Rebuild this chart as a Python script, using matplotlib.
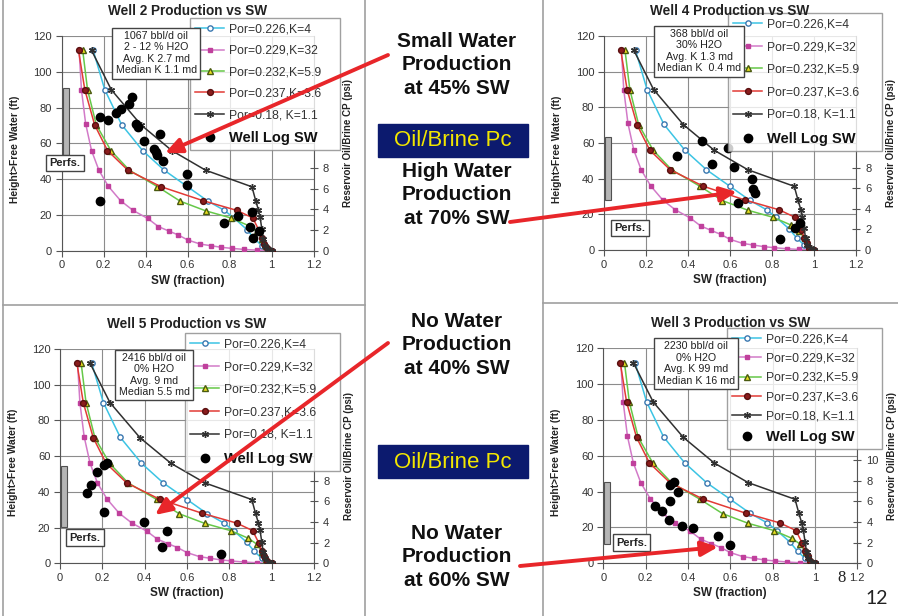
import matplotlib.pyplot as plt
from matplotlib.lines import Line2D
from matplotlib.patches import Rectangle

plt.rcParams['font.family'] = ['Liberation Sans', 'DejaVu Sans']

# capillary pressure curves (the same five curves are on every chart)
sw_226 = [0.150, 0.205, 0.285, 0.385, 0.488, 0.600, 0.695, 0.775, 0.820, 0.882, 0.918, 0.953, 1.0]
h_226 = [112, 90, 70.5, 56, 45, 35.7, 27.8, 22.5, 18.3, 11.8, 6.7, 2.8, 0]
sw_229 = [0.083, 0.094, 0.114, 0.142, 0.177, 0.222, 0.28, 0.34, 0.41, 0.46, 0.51, 0.555,
          0.60, 0.66, 0.71, 0.76, 0.81, 0.87, 0.93, 1.0]
h_229 = [112, 90, 71, 56, 45, 36, 28, 22.5, 18, 13.5, 11, 8.8, 6, 3.7, 2.8, 1.9, 1.3, 0.7, 0.3, 0]
sw_232 = [0.100, 0.123, 0.165, 0.234, 0.322, 0.456, 0.564, 0.685, 0.806, 0.890, 0.929, 0.956, 0.975, 1.0]
h_232 = [112, 90, 70.3, 56, 45, 35.8, 27.7, 22.3, 18.3, 14, 10.8, 6.5, 2.5, 0]
sw_237 = [0.080, 0.110, 0.157, 0.218, 0.315, 0.472, 0.672, 0.835, 0.910, 0.940, 0.953, 0.965, 0.976, 1.0]
h_237 = [112, 90, 70.3, 56, 45, 35.8, 28, 22.5, 18.3, 11.2, 7, 4, 1.3, 0]
sw_18 = [0.142, 0.236, 0.378, 0.524, 0.685, 0.906, 0.924, 0.937, 0.945, 0.953, 0.960, 0.968, 0.984, 1.0]
h_18 = [112, 90, 70.3, 56, 45, 35.7, 27.9, 22.7, 18.6, 12.1, 6.5, 2.8, 1, 0]

curve_labels = ['Por=0.226,K=4', 'Por=0.229,K=32', 'Por=0.232,K=5.9', 'Por=0.237,K=3.6', 'Por=0.18, K=1.1']

# well log SW points
sw_w2 = [0.18, 0.183, 0.222, 0.26, 0.28, 0.32, 0.335, 0.355, 0.362, 0.39, 0.44, 0.45, 0.455,
         0.466, 0.484, 0.595, 0.595, 0.773, 0.84, 0.905, 0.897, 0.912, 0.94]
h_w2 = [28, 75, 73, 77, 79, 82, 86, 71, 69, 61.5, 57, 55, 53.5, 65, 50, 43, 37, 15.5, 19.5, 21.5, 13, 7, 11]
sw_w4 = [0.349, 0.465, 0.513, 0.592, 0.619, 0.703, 0.711, 0.719, 0.640, 0.933, 0.91, 0.838]
h_w4 = [52.7, 61.3, 48.2, 57, 46.4, 39.6, 34, 32.1, 26.5, 15.3, 12.1, 6]
sw_w5 = [0.129, 0.145, 0.176, 0.208, 0.22, 0.208, 0.397, 0.504, 0.484, 0.76]
h_w5 = [39.2, 43.8, 50.9, 55, 56, 28.9, 23.3, 18.3, 9, 5.2]
sw_w3 = [0.315, 0.333, 0.354, 0.315, 0.244, 0.276, 0.31, 0.373, 0.425, 0.543, 0.598]
h_w3 = [43.7, 45.6, 39.6, 34.8, 32.2, 29.2, 24.2, 21, 19.5, 15.4, 10.2]

wells = ['Well 2', 'Well 4', 'Well 5', 'Well 3']
info = ['1067 bbl/d oil\n2 - 12 % H2O\nAvg. K 2.7 md\nMedian K 1.1 md',
        '368 bbl/d oil\n30% H2O\nAvg. K 1.3 md\nMedian K  0.4 md',
        '2416 bbl/d oil\n0% H2O\nAvg. 9 md\nMedian 5.5 md',
        '2230 bbl/d oil\n0% H2O\nAvg. K 99 md\nMedian K 16 md']
log_sw = [sw_w2, sw_w4, sw_w5, sw_w3]
log_h = [h_w2, h_w4, h_w5, h_w3]
perf_top = [91, 63.6, 54.5, 45.6]
perf_bot = [53.5, 28, 20.5, 10.6]
psi_max = [8, 8, 8, 10]

notes = ['Small Water\nProduction\nat 45% SW', 'High Water\nProduction\nat 70% SW',
         'No Water\nProduction\nat 40% SW', 'No Water\nProduction\nat 60% SW']

# layout (pixels of the 898x616 slide)
W, H = 898, 616
ax_px = [(61.7, 36, 313.7, 250.7), (604, 36, 856, 250), (60, 349, 314, 563.3), (603.3, 348.3, 857.3, 563.3)]
info_xy = [(0.45, 110.4), (0.453, 111.5), (0.445, 105.5), (0.439, 111.5)]
perf_xy = [(0.015, 49), (0.124, 12.4), (0.118, 14.3), (0.133, 11.6)]
leg_px = [(190, 18, 150), (728, 13, 154), (185, 333, 155), (727, 328, 155)]
leg_space = [0.78, 0.88, 0.88, 0.6]
note_xy = [(457, 65), (457, 195), (457, 345), (457, 557)]
pc_box_top = [124, 445]
arrow_px = [((388, 55), (165, 153)), ((510, 222), (737, 192)),
            ((388, 343), (155, 515)), ((520, 566), (718, 547))]

styles = [dict(color='#3cc4e4', marker='o', mfc='white', mec='#3a78b0', ms=3.8, lw=1.1),
          dict(color='#d27ac8', marker='s', mfc='#c0409c', mec='#c0409c', ms=2.2, lw=1.1),
          dict(color='#66c848', marker='^', mfc='#e8e020', mec='#4a5a10', ms=4.5, lw=1.1),
          dict(color='#e23a36', marker='o', mfc='#8a1c1c', mec='#5a1010', ms=4.2, lw=1.1),
          dict(color='#303030', marker=(6, 2, 0), mfc='#303030', mec='#303030', ms=5, lw=1.1)]
curves = [(sw_226, h_226), (sw_229, h_229), (sw_232, h_232), (sw_237, h_237), (sw_18, h_18)]

fig = plt.figure(figsize=(W / 100, H / 100), dpi=100)
fig.patch.set_facecolor('white')

xt = [0, 0.2, 0.4, 0.6, 0.8, 1.0, 1.2]
xt_lab = ['0', '0.2', '0.4', '0.6', '0.8', '1', '1.2']

axes = []
for i in range(4):
    l, t, r, b = ax_px[i]
    ax = fig.add_axes([l / W, 1 - b / H, (r - l) / W, (b - t) / H])
    axes.append(ax)
    ax.set_xlim(0, 1.2)
    ax.set_ylim(0, 120)
    ax.set_xticks(xt)
    ax.set_xticklabels(xt_lab)
    ax.set_yticks(range(0, 121, 20))
    ax.grid(True, color='#8c8c8c', lw=0.8)
    ax.set_axisbelow(True)
    for s in ['top', 'right']:
        ax.spines[s].set_visible(False)
    for s in ['left', 'bottom']:
        ax.spines[s].set_color('#555555')
    ax.tick_params(direction='out', length=4, color='#555555', labelsize=8, labelcolor='#333333', pad=3)

    for (x, y), st in zip(curves, styles):
        ax.plot(x, y, zorder=3, **st)
    ax.plot(log_sw[i], log_h[i], 'o', color='black', ms=6, zorder=4)

    ax.bar(0.019, perf_top[i] - perf_bot[i], bottom=perf_bot[i], width=0.03,
           color='#b5b5b5', edgecolor='#505050', lw=0.8, zorder=3)
    px, py = perf_xy[i]
    ax.text(px, py, 'Perfs.', ha='center', va='center', fontsize=8, fontweight='bold',
            color='#222222', zorder=6, clip_on=False,
            bbox=dict(boxstyle='square,pad=0.3', fc='white', ec='#444444', lw=1))

    ax.set_xlabel('SW (fraction)', fontsize=8.5, fontweight='bold', color='#222222', labelpad=3)
    ax.set_ylabel('Height>Free Water (ft)', fontsize=7.4, fontweight='bold', color='#222222')
    ax.yaxis.set_label_coords(-0.165, 0.47)

    ax2 = ax.twinx()
    ax2.set_ylim(0, 20.8)
    ax2.set_yticks(range(0, psi_max[i] + 1, 2))
    for s in ['top', 'left', 'bottom']:
        ax2.spines[s].set_visible(False)
    ax2.spines['right'].set_color('#555555')
    ax2.tick_params(direction='inout', length=6, color='#555555', labelsize=8, labelcolor='#333333')
    ax2.set_ylabel('Reservoir Oil/Brine CP (psi)', fontsize=7, fontweight='bold', color='#222222')
    ax2.yaxis.set_label_coords(1.118, 0.5)

    handles = [Line2D([], [], **st) for st in styles]
    handles.append(Line2D([], [], ls='none', marker='o', color='black', ms=6))
    lx, ly, lw_ = leg_px[i]
    leg = fig.legend(handles, curve_labels + ['Well Log SW'], loc='upper left',
                     bbox_to_anchor=(lx / W, 1 - ly / H, lw_ / W, 0.0), mode='expand',
                     fontsize=8.7, frameon=True, fancybox=False, edgecolor='#888888',
                     handlelength=2.4, handletextpad=0.4, labelspacing=leg_space[i],
                     borderpad=0.45, borderaxespad=0)
    leg.get_frame().set_linewidth(1)
    for tx in leg.get_texts():
        tx.set_color('#333333')
    leg.get_texts()[-1].set_fontsize(10.5)
    leg.get_texts()[-1].set_fontweight('bold')
    leg.get_texts()[-1].set_color('#111111')

# overlay in slide pixels for frames, notes and arrows
ov = fig.add_axes([0, 0, 1, 1], zorder=10)
ov.set_xlim(0, W)
ov.set_ylim(H, 0)
ov.axis('off')
ov.patch.set_alpha(0)

# titles and production info boxes sit above the legends
for i, ax in enumerate(axes):
    ov.text(0.5, 1.116, wells[i] + ' Production vs SW', transform=ax.transAxes,
            ha='center', va='center', fontsize=9.8, fontweight='bold', color='#222222')
    ix, iy = info_xy[i]
    ov.text(ix, iy, info[i], transform=ax.transData, ha='center', va='center',
            fontsize=7.7, linespacing=1.18, color='#222222',
            bbox=dict(boxstyle='square,pad=0.3', fc='white', ec='#444444', lw=1))

frame = dict(color='#a0a0a0', lw=1.2)
ov.plot([3, 3], [0, H], **frame)
ov.plot([365, 365], [0, H], **frame)
ov.plot([543, 543], [0, H], **frame)
ov.plot([3, 365], [305, 305], **frame)
ov.plot([543, W], [303, 303], **frame)

for (nx, ny), txt in zip(note_xy, notes):
    ov.text(nx, ny, txt, ha='center', va='center', fontsize=15, fontweight='bold',
            color='#111111', linespacing=1.3)

for bt in pc_box_top:
    ov.add_patch(Rectangle((378, bt), 150, 33, fc='#0c1a6e', ec='#0c1a6e'))
    ov.text(453, bt + 17, 'Oil/Brine Pc', ha='center', va='center', fontsize=16, color='#f2e600')

for (tail, head) in arrow_px:
    ov.annotate('', xy=head, xytext=tail,
                arrowprops=dict(arrowstyle='-|>,head_length=1.0,head_width=0.45',
                                mutation_scale=10, color='#e8262a', lw=2.8, shrinkA=0, shrinkB=0))

ov.text(842, 578, '8', ha='center', va='center', fontsize=12, family='Liberation Serif', color='#222222')
ov.text(877, 598, '12', ha='center', va='center', fontsize=14, family='Lato', color='#222222')

fig.savefig('out.png', dpi=100, facecolor='white')
